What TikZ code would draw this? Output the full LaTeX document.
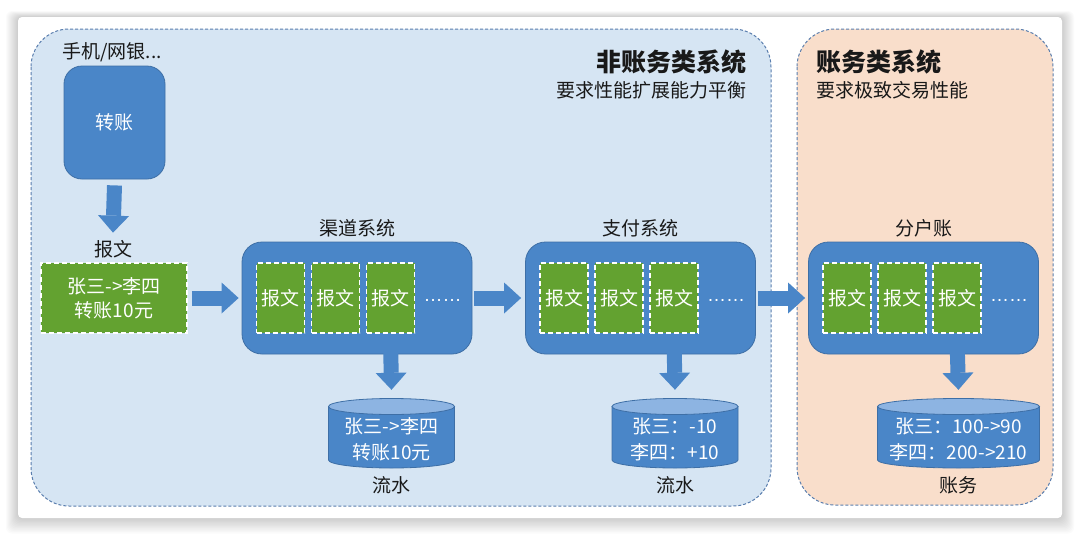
\documentclass[tikz,border=0pt]{standalone}
\usepackage{fontspec}
\setmainfont{Noto Sans CJK SC}
\newfontfamily\dotsfont{Liberation Sans}
\usetikzlibrary{arrows.meta,positioning}

\definecolor{regionblue}{HTML}{D6E5F3}
\definecolor{regionpeach}{HTML}{F9DECB}
\definecolor{regionline}{HTML}{5A7EAE}
\definecolor{boxblue}{HTML}{4A86C8}
\definecolor{boxline}{HTML}{3E6FA6}
\definecolor{msggreen}{HTML}{63A230}
\definecolor{toplight}{HTML}{8DB4E2}

\begin{document}
\begin{tikzpicture}[x=1pt, y=-1pt,
    every node/.style={font=\fontsize{19}{24}\selectfont, text=black!90},
    region/.style={draw=regionline, dash pattern=on 3pt off 2pt, line width=1pt, rounded corners=38pt},
    sysbox/.style={draw=boxline, fill=boxblue, line width=0.8pt, rounded corners=20pt, inner sep=0pt,
      minimum width=230pt, minimum height=112pt, text=white},
    msg/.style={draw=white, fill=msggreen, dash pattern=on 5pt off 3pt, line width=1.6pt, inner sep=0pt,
      minimum width=48pt, minimum height=70pt, text=white, align=center},
    store/.style={minimum width=#1pt, minimum height=82pt, inner sep=0pt, text=white, align=center,
      font=\fontsize{19}{26}\selectfont,
      path picture={
        \draw[boxline, line width=0.8pt, fill=boxblue]
          ([xshift=0.5pt, yshift=-8.5pt]path picture bounding box.north west)
          -- ([xshift=0.5pt, yshift=20pt]path picture bounding box.south west)
          arc[start angle=180, end angle=360, x radius={(#1/2-0.5)*1pt}, y radius=8pt]
          -- ([xshift=-0.5pt, yshift=-8.5pt]path picture bounding box.north east) -- cycle;
        \draw[boxline, line width=0.8pt, fill=toplight]
          ([yshift=-8.5pt]path picture bounding box.north) ellipse [x radius={(#1/2-0.5)*1pt}, y radius=8pt];
      }},
    store/.default=127,
    blockarrow/.style={draw=boxblue, line width=15pt, -{Triangle[width=31pt,length=17pt,line width=0pt]}},
    title/.style={font=\fontsize{25}{30}\selectfont\bfseries},
  ]
  \useasboundingbox (0,0) rectangle (1080,536);
  \fill[white] (0,0) rectangle (1080,536);

  % card with soft shadow
  \foreach \i in {1,...,12}
    \fill[black, opacity=0.016, rounded corners=6pt] (18-\i,17-\i*0.5) rectangle (1062+\i,518+\i*1.3);
  \fill[white, rounded corners=4pt] (18,17) rectangle (1062,518);

  % regions
  \draw[region, fill=regionblue] (31,29) rectangle (771,506);
  \draw[region, fill=regionpeach] (797,29) rectangle (1053,505);

  \node[title, anchor=east] (t1) at (750,62) {非账务类系统};
  \node[anchor=east] (s1) at (750,90) {要求性能扩展能力平衡};
  \node[title, anchor=west] (t2) at (813,62) {账务类系统};
  \node[anchor=west] (s2) at (813,90) {要求极致交易性能};

  % client
  \node[anchor=west] (client) at (59,52) {手机/网银...};
  \node[sysbox, minimum width=101pt, minimum height=113pt, rounded corners=18pt] (zz) at (114.5,122.5) {转账};
  \node (bw) at (113,249) {报文};
  \node[msg, minimum width=146pt] (m0) at (114,298) {张三->李四\\转账10元};

  % systems
  \node[sysbox] (qudao) at (357,298) {};
  \node[sysbox] (zhifu) at (640.5,298) {};
  \node[sysbox] (fenhu) at (923.5,298) {};
  \node[above=1pt of qudao] (qc) {渠道系统};
  \node[above=1pt of zhifu] (zc) {支付系统};
  \node[above=1pt of fenhu] (fc) {分户账};

  \foreach \sys/\p in {qudao/q, zhifu/z, fenhu/f} {
    \foreach \i/\dx in {1/39, 2/94, 3/149}
      \node[msg] (\p\i) at ([xshift=\dx pt]\sys.west) {报文};
    \node[text=white] (\p-more) at ([xshift=201pt, yshift=-2pt]\sys.west) {\dotsfont ……};
  }

  % stores
  \node[store] (ls1) at (391.5,439) {张三->李四\\转账10元};
  \node[store] (ls2) at (675,439) {张三：-10\\李四：+10};
  \node[store=163] (zw) at (958.5,439) {张三：100->90\\李四：200->210};
  \node[below=-7pt of ls1] (lc1) {流水};
  \node[below=-7pt of ls2] (lc2) {流水};
  \node[below=-7pt of zw] (lc3) {账务};

  % arrows
  \draw[blockarrow] ([yshift=-6pt]zz.south) -- ([yshift=4pt]bw.north);
  \draw[blockarrow] ([xshift=4pt]m0.east) -- ([xshift=-3pt]qudao.west);
  \draw[blockarrow] ([xshift=2pt]qudao.east) -- ([xshift=-4pt]zhifu.west);
  \draw[blockarrow] ([xshift=2pt]zhifu.east) -- ([xshift=-3pt]fenhu.west);
  \draw[blockarrow] ([yshift=-9pt]q3.south) -- ([yshift=8pt]ls1.north);
  \draw[blockarrow] ([yshift=-9pt]z3.south) -- ([yshift=8pt]ls2.north);
  \draw[blockarrow] ([yshift=-9pt]f3.south) -- ([yshift=8pt]zw.north);
\end{tikzpicture}
\end{document}
